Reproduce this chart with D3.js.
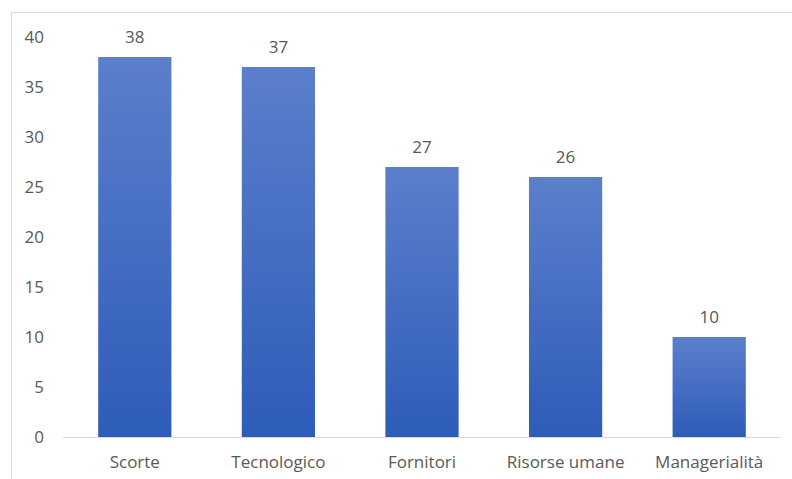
<!DOCTYPE html>
<html>
<head>
<meta charset="utf-8">
<script src="https://cdn.jsdelivr.net/npm/d3@7"></script>
<style>
  html, body { margin: 0; padding: 0; background: #fff; }
  svg text { font-family: "Open Sans", Lato, "Liberation Sans", sans-serif; fill: #595959; }
</style>
</head>
<body>
<svg id="chart" width="792" height="479"></svg>
<script>
const categories = ["Scorte", "Tecnologico", "Fornitori", "Risorse umane", "Managerialità"];
const values = [38, 37, 27, 26, 10];
const yTicks = [0, 5, 10, 15, 20, 25, 30, 35, 40];

const svg = d3.select("#chart");
const W = 792, H = 479;
const margin = { left: 63, right: 11, top: 37, bottom: 42 };
const FONT = '"Open Sans", Lato, sans-serif';
const FS = 17;

// chart area frame
svg.append("rect")
  .attr("x", 11.5).attr("y", 12.5)
  .attr("width", W + 20).attr("height", H + 20)
  .attr("fill", "#fff").attr("stroke", "#d9d9d9").attr("stroke-width", 1);

const x = d3.scaleBand().domain(categories)
  .range([margin.left, W - margin.right]).paddingInner(0.49).paddingOuter(0.245);
const y = d3.scaleLinear().domain([0, 40]).range([H - margin.bottom, margin.top]);

const defs = svg.append("defs");
const grad = defs.append("linearGradient").attr("id", "barFill")
  .attr("x1", 0).attr("y1", 0).attr("x2", 0).attr("y2", 1);
grad.append("stop").attr("offset", "0%").attr("stop-color", "#5b7fcb");
grad.append("stop").attr("offset", "100%").attr("stop-color", "#2e5cba");

// bars
svg.selectAll("rect.bar").data(values).enter().append("rect")
  .attr("class", "bar")
  .attr("x", (d, i) => x(categories[i]))
  .attr("y", d => y(d))
  .attr("width", x.bandwidth())
  .attr("height", d => y(0) - y(d))
  .attr("fill", "url(#barFill)");

// baseline
svg.append("line")
  .attr("x1", margin.left).attr("x2", W - margin.right)
  .attr("y1", y(0) + 0.5).attr("y2", y(0) + 0.5)
  .attr("stroke", "#d9d9d9").attr("stroke-width", 1);

// y axis labels
const yAxis = d3.axisLeft(y).tickValues(yTicks).tickSize(0).tickPadding(0);
const gy = svg.append("g").attr("transform", "translate(44,0)").call(yAxis);
gy.select(".domain").remove();
gy.selectAll("text").attr("font-size", FS).style("fill", "#595959").style("font-family", FONT);

// x axis labels
const xAxis = d3.axisBottom(x).tickSize(0).tickPadding(0);
const gx = svg.append("g").attr("transform", `translate(0,${y(0) + 19})`).call(xAxis);
gx.select(".domain").remove();
gx.selectAll("text").attr("font-size", FS).style("fill", "#595959").style("font-family", FONT);

// value labels
svg.selectAll("text.val").data(values).enter().append("text")
  .attr("class", "val")
  .attr("x", (d, i) => x(categories[i]) + x.bandwidth() / 2)
  .attr("y", d => y(d) - 14)
  .attr("text-anchor", "middle")
  .attr("font-size", FS)
  .style("font-family", FONT)
  .text(d => d);
</script>
</body>
</html>
